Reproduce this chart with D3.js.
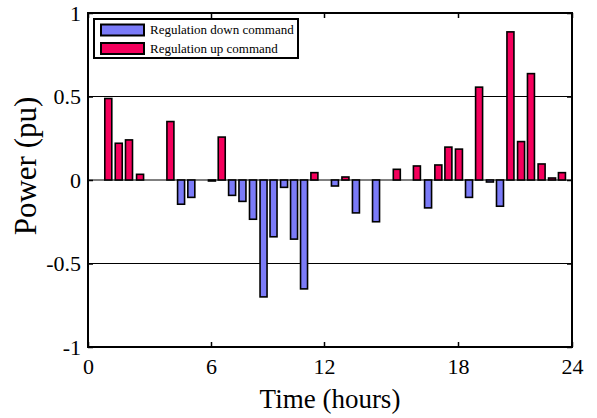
<!DOCTYPE html>
<html>
<head>
<meta charset="utf-8">
<script src="https://cdn.jsdelivr.net/npm/d3@7"></script>
<style>
  body { margin: 0; background: #fff; }
  svg { display: block; font-family: "Liberation Serif", "Times New Roman", serif; }
</style>
</head>
<body>
<svg id="chart" width="597" height="418"></svg>
<script>
"use strict";

const hours = [0.99, 1.50, 2.00, 2.54, 4.02, 4.54, 5.04, 6.05, 6.57, 7.12, 7.67, 8.23, 8.79,
  9.32, 9.88, 10.41, 10.94, 11.49, 12.49, 12.96, 13.43, 14.33, 15.26, 16.16, 16.66, 17.12,
  17.57, 18.05, 18.58, 19.11, 19.68, 20.21, 20.76, 21.32, 21.84, 22.40, 22.95, 23.47];
const power = [0.488, 0.22, 0.24, 0.034, 0.35, -0.145, -0.104, -0.006, 0.257, -0.092, -0.128,
  -0.235, -0.70, -0.34, -0.044, -0.354, -0.652, 0.044, -0.036, 0.018, -0.197, -0.25, 0.064,
  0.084, -0.167, 0.09, 0.197, 0.185, -0.104, 0.556, -0.012, -0.157, 0.887, 0.23, 0.637, 0.096,
  0.012, 0.044];

const seriesNames = ["Regulation down command", "Regulation up command"];
const xTicks = [0, 6, 12, 18, 24];
const yTicks = [-1, -0.5, 0, 0.5, 1];
const yGrid = [-0.5, 0, 0.5];

var svg = d3.select("#chart");
var plotLeft = 88, plotRight = 572, plotTop = 13, plotBottom = 347;

// l'axe du haut n'est pas régulier sur l'image, on garde les positions des graduations
var x = d3.scaleLinear().domain(xTicks).range([plotLeft, 211, 324, 458, plotRight]);
var y = d3.scaleLinear().domain([-1, 1]).range([plotBottom, plotTop]);
var color = d3.scaleOrdinal().domain(seriesNames).range(["#7b7bf8", "#f5005c"]);

var bars = hours.map((h, i) => ({
  hour: h,
  value: power[i],
  series: power[i] < 0 ? seriesNames[0] : seriesNames[1]
}));

// grille horizontale
svg.append("g").selectAll("line")
  .data(yGrid)
  .enter()
  .append("line")
  .attr("x1", plotLeft).attr("x2", plotRight)
  .attr("y1", d => y(d)).attr("y2", d => y(d))
  .attr("stroke", "#000")
  .attr("stroke-width", 1);

var barWidth = 7;
svg.append("g").selectAll("rect")
  .data(bars)
  .enter()
  .append("rect")
  .attr("x", d => x(d.hour) - barWidth / 2)
  .attr("y", d => y(Math.max(0, d.value)))
  .attr("width", barWidth)
  .attr("height", d => Math.abs(y(d.value) - y(0)))
  .attr("fill", d => color(d.series))
  .attr("stroke", "#000")
  .attr("stroke-width", 1.6);

// axes avec graduations vers l'intérieur
function styleAxis(g) {
  g.select(".domain").remove();
  g.selectAll(".tick line").attr("stroke", "#000").attr("stroke-width", 1.5);
  g.selectAll(".tick text").attr("fill", "#000").style("font-size", "22px")
    .style("font-family", "'Liberation Serif', serif");
}

svg.append("g")
  .attr("transform", "translate(0," + plotBottom + ")")
  .call(d3.axisBottom(x).tickValues(xTicks).tickSize(-5).tickPadding(11).tickFormat(d => d))
  .call(styleAxis);

svg.append("g")
  .attr("transform", "translate(0," + plotTop + ")")
  .call(d3.axisTop(x).tickValues(xTicks).tickSize(-5).tickFormat(""))
  .call(styleAxis);

svg.append("g")
  .attr("transform", "translate(" + plotLeft + ",0)")
  .call(d3.axisLeft(y).tickValues(yTicks).tickSize(-5).tickPadding(7).tickFormat(d => d))
  .call(styleAxis);

svg.append("g")
  .attr("transform", "translate(" + plotRight + ",0)")
  .call(d3.axisRight(y).tickValues(yTicks).tickSize(-5).tickFormat(""))
  .call(styleAxis);

// cadre
svg.append("rect")
  .attr("x", plotLeft).attr("y", plotTop)
  .attr("width", plotRight - plotLeft).attr("height", plotBottom - plotTop)
  .attr("fill", "none")
  .attr("stroke", "#000")
  .attr("stroke-width", 2);

// légende
var legend = svg.append("g").attr("transform", "translate(94,19)");
legend.append("rect")
  .attr("width", 204).attr("height", 39)
  .attr("fill", "#fff").attr("stroke", "#000").attr("stroke-width", 2);

var items = legend.selectAll(".item")
  .data(seriesNames)
  .enter()
  .append("g")
  .attr("transform", (d, i) => "translate(0," + (i * 18.5) + ")");

items.append("rect")
  .attr("x", 7).attr("y", 5.5)
  .attr("width", 43).attr("height", 11)
  .attr("fill", d => color(d))
  .attr("stroke", "#000").attr("stroke-width", 2);

items.append("text")
  .attr("x", 56).attr("y", 15)
  .style("font-size", "13px")
  .text(d => d);

// titres des axes
svg.append("text")
  .attr("x", (plotLeft + plotRight) / 2).attr("y", 408)
  .attr("text-anchor", "middle")
  .style("font-size", "27px")
  .text("Time (hours)");

svg.append("text")
  .attr("transform", "translate(36,166) rotate(-90)")
  .attr("text-anchor", "middle")
  .style("font-size", "31px")
  .text("Power (pu)");
</script>
</body>
</html>
